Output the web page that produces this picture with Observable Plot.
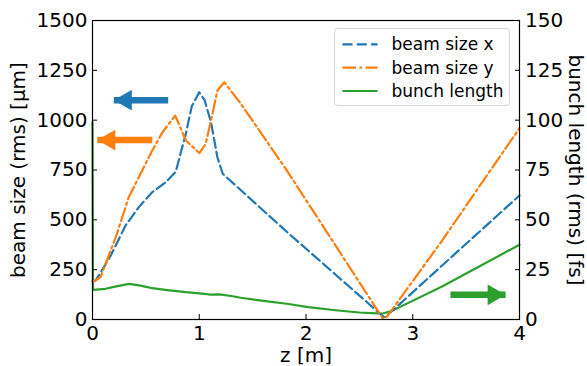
<!DOCTYPE html>
<html><head><meta charset="utf-8">
<script src="https://cdn.jsdelivr.net/npm/d3@7"></script>
<script src="https://cdn.jsdelivr.net/npm/@observablehq/plot@0.6"></script>
<style>
body{margin:0;background:#fff;font-family:"DejaVu Sans",sans-serif;}
#wrap{position:relative;width:587px;height:366px;}
#legend{position:absolute;left:334px;top:28px;width:176px;height:78px;border:1px solid #d4d4d4;border-radius:4px;background:rgba(255,255,255,0.85);box-sizing:border-box;}
</style>
</head><body>
<div id="wrap"></div>
<script>
// beam size x [µm] vs z [m]
const zX    = [0, 0.03, 0.17, 0.31, 0.436, 0.56, 0.687, 0.78, 0.875, 0.93, 1.0, 1.05, 1.11, 1.17, 1.22, 1.82, 2.73, 2.76, 3.275, 4.0];
const sizeX = [190, 196, 320, 472, 565, 639, 689, 742, 933, 1070, 1140, 1100, 990, 814, 731, 440, 12, 20, 271, 622];
// beam size y [µm] vs z [m]
const zY    = [0, 0.03, 0.075, 0.216, 0.34, 0.56, 0.656, 0.775, 0.875, 1.0, 1.06, 1.11, 1.17, 1.235, 1.39, 1.82, 2.72, 2.76, 3.275, 4.0];
const sizeY = [190, 196, 212, 410, 614, 848, 940, 1023, 898, 835, 881, 998, 1149, 1190, 1082, 748, 5, 15, 396, 960];
// bunch length [fs] vs z [m]
const zL       = [0, 0.005, 0.122, 0.2, 0.342, 0.45, 0.56, 0.72, 0.875, 1.05, 1.1, 1.19, 1.3, 1.39, 1.6, 1.82, 2.02, 2.3, 2.5, 2.71, 2.8, 3.275, 4.0];
const bunchLen = [99, 14.9, 15.4, 16.4, 17.9, 17.0, 15.7, 14.6, 13.7, 12.9, 12.5, 12.6, 11.8, 10.9, 9.3, 7.9, 6.2, 4.5, 3.5, 2.9, 4.2, 16.6, 37.5];
// tick labels
const xTicks = [0, 1, 2, 3, 4];
const leftTicks = [0, 250, 500, 750, 1000, 1250, 1500];
const rightTicks = [0, 25, 50, 75, 100, 125, 150];
// annotation arrows: tail z, tip z, level (left-axis units), colour
const arrowTail  = [0.709, 0.56, 3.353];
const arrowTip   = [0.20, 0.045, 3.87];
const arrowLevel = [1100, 900, 124];
const arrowColor = ["#1f77b4", "#ff7f0e", "#2ca02c"];
// series names & colours
const seriesNames = ["beam size x", "beam size y", "bunch length"];
const seriesColors = ["#1f77b4", "#ff7f0e", "#2ca02c"];
const seriesDash = ["10,4.3", "13.5,3.5,2.5,3.5", null];

const RATIO = 10; // 1 fs on right axis = 10 µm on left axis

const dX = zX.map((z, i) => ({z, v: sizeX[i]}));
const dY = zY.map((z, i) => ({z, v: sizeY[i]}));
const dL = zL.map((z, i) => ({z, v: bunchLen[i] * RATIO}));
const arrows = arrowTail.map((t, i) => ({t, tip: arrowTip[i], y: arrowLevel[i], c: arrowColor[i], dir: arrowTip[i] < t ? -1 : 1}));

const chart = Plot.plot({
  width: 587, height: 366,
  marginLeft: 92, marginRight: 68, marginTop: 20, marginBottom: 47,
  style: {fontFamily: "DejaVu Sans, sans-serif", fontSize: "20px", color: "#000", background: "#fff", overflow: "visible"},
  x: {domain: [0, 4]},
  y: {domain: [0, 1500]},
  marks: [
    Plot.line(dL, {x: "z", y: "v", stroke: seriesColors[2], strokeWidth: 2.2}),
    Plot.line(dX, {x: "z", y: "v", stroke: seriesColors[0], strokeWidth: 2.2, strokeDasharray: seriesDash[0]}),
    Plot.line(dY, {x: "z", y: "v", stroke: seriesColors[1], strokeWidth: 2.2, strokeDasharray: seriesDash[1]}),
    Plot.link(arrows, {x1: "t", x2: "tip", y1: "y", y2: "y", stroke: "c", strokeWidth: 6.5}),
    Plot.dot(arrows.filter(a => a.dir < 0), {x: "tip", y: "y", fill: "c", symbol: "triangle", r: 7.7, rotate: -90, dx: 12}),
    Plot.dot(arrows.filter(a => a.dir > 0), {x: "tip", y: "y", fill: "c", symbol: "triangle", r: 7.7, rotate: 90, dx: -12}),
    Plot.frame({stroke: "#000", strokeWidth: 1.2}),
    Plot.axisX(xTicks, {tickSize: -5, tickPadding: 11.5, label: null, fontSize: 20, tickFormat: d => String(d)}),
    Plot.axisY(leftTicks, {anchor: "left", tickSize: -5, tickPadding: 10, label: null, fontSize: 20, tickFormat: d => String(d)}),
    Plot.axisY(rightTicks.map(d => d * RATIO), {anchor: "right", tickSize: -5, tickPadding: 10.5, tickFormat: d => String(d / RATIO), label: null, fontSize: 20}),
    Plot.text(["beam size (rms) [µm]"], {frameAnchor: "left", textAnchor: "middle", lineAnchor: "middle", rotate: -90, dx: -74, text: d => d, fontSize: 20}),
    Plot.text(["bunch length (rms) [fs]"], {frameAnchor: "right", textAnchor: "middle", lineAnchor: "middle", rotate: 90, dx: 56, text: d => d, fontSize: 20}),
    Plot.text(["z [m]"], {frameAnchor: "bottom", textAnchor: "middle", lineAnchor: "middle", dy: 36.5, text: d => d, fontSize: 20})
  ]
});
const wrap = document.getElementById("wrap");
wrap.appendChild(chart);

// legend
const leg = document.createElement("div");
leg.id = "legend";
const ns = "http://www.w3.org/2000/svg";
const svg = document.createElementNS(ns, "svg");
svg.setAttribute("width", 176); svg.setAttribute("height", 78);
const rowsY = [15.3, 38.7, 62];
seriesNames.forEach((name, i) => {
  const ln = document.createElementNS(ns, "line");
  ln.setAttribute("x1", 7.5); ln.setAttribute("x2", 42.5);
  ln.setAttribute("y1", rowsY[i]); ln.setAttribute("y2", rowsY[i]);
  ln.setAttribute("stroke", seriesColors[i]); ln.setAttribute("stroke-width", 2.2);
  if (seriesDash[i]) ln.setAttribute("stroke-dasharray", seriesDash[i]);
  svg.appendChild(ln);
  const tx = document.createElementNS(ns, "text");
  tx.setAttribute("x", 56.5); tx.setAttribute("y", rowsY[i]);
  tx.setAttribute("dominant-baseline", "central");
  tx.setAttribute("font-family", "DejaVu Sans, sans-serif");
  tx.setAttribute("font-size", 17);
  tx.setAttribute("fill", "#000");
  tx.textContent = name;
  svg.appendChild(tx);
});
leg.appendChild(svg);
wrap.appendChild(leg);
</script>
</body></html>
